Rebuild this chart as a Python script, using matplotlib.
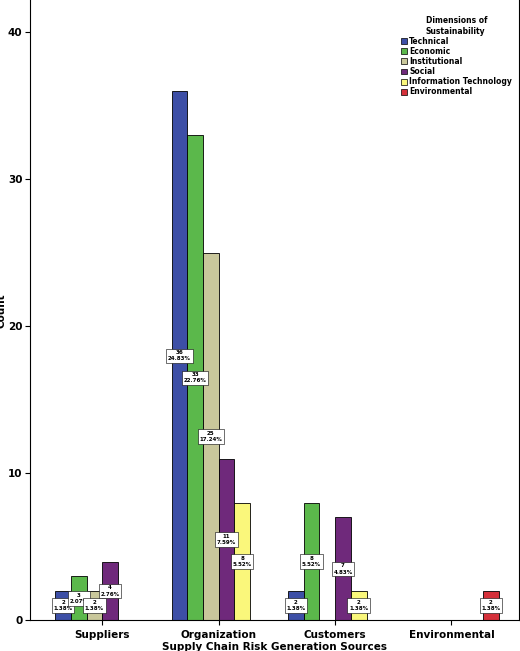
import matplotlib
matplotlib.use("Agg")
import matplotlib.pyplot as plt
import numpy as np

groups = ["Suppliers", "Organization", "Customers", "Environmental"]
series = ["Technical", "Economic", "Institutional", "Social", "Information Technology", "Environmental"]
colors = ["#3d4fa6", "#5bb84b", "#c9c79b", "#6f297b", "#faf77b", "#d5303a"]
values = {
    "Technical": [2, 36, 2, 0],
    "Economic": [3, 33, 8, 0],
    "Institutional": [2, 25, 0, 0],
    "Social": [4, 11, 7, 0],
    "Information Technology": [0, 8, 2, 0],
    "Environmental": [0, 0, 0, 2],
}
total = 145

fig = plt.figure(figsize=(5.2, 6.51), dpi=100)
ax = fig.add_axes([0.058, 0.047, 0.94, 0.953])
w = 0.135
x = np.arange(len(groups))
for i, s in enumerate(series):
    for j, v in enumerate(values[s]):
        if v == 0:
            continue
        xp = x[j] + (i - 2.5) * w
        ax.bar(xp, v, w, color=colors[i], edgecolor="black", linewidth=0.6)
        ax.text(xp, v / 2, f"{v}\n{v/total*100:.2f}%", ha="center", va="center",
                fontsize=4, fontweight="bold", linespacing=1.3,
                bbox=dict(facecolor="white", edgecolor="black", linewidth=0.4, pad=1.2))
ax.set_xlim(-0.62, 3.58)
ax.set_ylim(0, 42.2)
ax.set_yticks([0, 10, 20, 30, 40])
ax.set_xticks(x)
ax.set_xticklabels(groups, fontsize=7.5, fontweight="bold")
ax.tick_params(axis="y", labelsize=7.5, pad=2)
for t in ax.get_yticklabels():
    t.set_fontweight("bold")
ax.set_ylabel("Count", fontsize=7.5, fontweight="bold", labelpad=1)
ax.set_xlabel("Supply Chain Risk Generation Sources", fontsize=7.5, fontweight="bold", labelpad=1)
ax.spines["top"].set_visible(False)
handles = [plt.Rectangle((0, 0), 1, 1, facecolor=c, edgecolor="black", linewidth=0.5) for c in colors]
leg = ax.legend(handles, series, title="Dimensions of\nSustainability", loc="upper right",
                bbox_to_anchor=(1.0, 0.985), frameon=False, fontsize=5.5,
                title_fontproperties={"size": 5.5, "weight": "bold"},
                handlelength=0.8, handleheight=0.8, handletextpad=0.3, labelspacing=0.15)
for t in leg.get_texts():
    t.set_fontweight("bold")
fig.savefig("out.png", dpi=100)
